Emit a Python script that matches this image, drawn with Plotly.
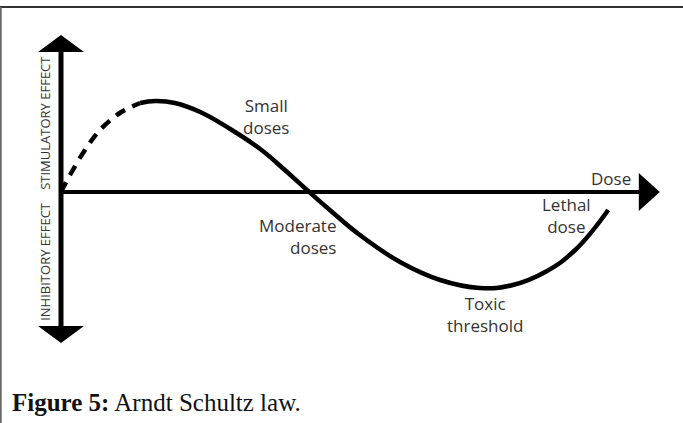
import plotly.graph_objects as go

# Arndt Schultz law: effect vs dose (sketch curve)
dose = [0, 0.15, 0.4, 0.65, 0.98, 1.32, 1.57, 1.9, 2.32, 2.82, 3.32, 3.73, 4.1,
        4.48, 4.98, 5.65, 6.32, 6.98, 7.53, 8.07, 8.57, 9.12]
effect = [0, 0.17, 0.42, 0.62, 0.79, 0.89, 0.91, 0.89, 0.80, 0.63, 0.43, 0.22, 0.02,
          -0.18, -0.43, -0.70, -0.88, -0.96, -0.93, -0.80, -0.58, -0.18]
n_dashed = 6  # first points drawn dashed (hypothetical low-dose part)

dose_max = 9.98
effect_top = 1.57
effect_bottom = -1.51

labels = ["Small<br>doses", "Moderate<br>doses", "Toxic<br>threshold", "Lethal<br>dose", "Dose"]
label_x = [3.42, 4.62, 7.07, 8.42, 9.17]
label_y = [0.76, -0.44, -1.22, -0.23, 0.14]
label_anchor = ["center", "right", "center", "center", "center"]

side_labels = ["STIMULATORY EFFECT", "INHIBITORY EFFECT"]
side_y = [0.69, -0.69]

caption = "<b>Figure 5:</b> Arndt Schultz law."

fig = go.Figure()

# axes shafts
fig.add_trace(go.Scatter(x=[0, dose_max - 0.3], y=[0, 0], mode="lines",
                         line=dict(color="black", width=4), hoverinfo="skip"))
fig.add_trace(go.Scatter(x=[0, 0], y=[effect_bottom + 0.14, effect_top - 0.14], mode="lines",
                         line=dict(color="black", width=5), hoverinfo="skip"))

# curve
fig.add_trace(go.Scatter(x=dose[:n_dashed], y=effect[:n_dashed], mode="lines",
                         line=dict(color="black", width=4.5, dash="11px,8px", shape="spline")))
fig.add_trace(go.Scatter(x=dose[n_dashed - 1:], y=effect[n_dashed - 1:], mode="lines",
                         line=dict(color="black", width=4.5, shape="spline", smoothing=1.2)))

# arrow heads (pixel sized, anchored on the axis ends)
heads = [
    (0, effect_top, "M0,0 L-23,-17 L23,-17 Z"),
    (0, effect_bottom, "M0,0 L-23,17 L23,17 Z"),
    (dose_max, 0, "M0,0 L-21,19 L-21,-19 Z"),
]
for hx, hy, p in heads:
    fig.add_shape(type="path", xref="x", yref="y", xsizemode="pixel", ysizemode="pixel",
                  xanchor=hx, yanchor=hy, path=p, fillcolor="black", line=dict(width=0))

for t, lx, ly, a in zip(labels, label_x, label_y, label_anchor):
    fig.add_annotation(x=lx, y=ly, text=t, showarrow=False, xanchor=a, align=a,
                       font=dict(family="Open Sans", size=17, color="#333"))

for t, sy in zip(side_labels, side_y):
    fig.add_annotation(x=-0.27, y=sy, text=t, showarrow=False, textangle=-90,
                       font=dict(family="Liberation Sans Narrow, Open Sans", size=13, color="#333"))

fig.add_annotation(xref="paper", yref="paper", x=10 / 683, y=1 - 402 / 423, text=caption,
                   showarrow=False, xanchor="left", yanchor="middle",
                   font=dict(family="Liberation Serif", size=25, color="#111"))

# frame lines
fig.add_shape(type="line", xref="paper", yref="paper", x0=0, x1=1, y0=1 - 7 / 423, y1=1 - 7 / 423,
              line=dict(color="#333", width=2))
fig.add_shape(type="line", xref="paper", yref="paper", x0=0.001, x1=0.001, y0=0, y1=1 - 7 / 423,
              line=dict(color="#666", width=2))

fig.update_xaxes(visible=False, range=[-61 / 60, 622 / 60])
fig.update_yaxes(visible=False, range=[-2.31, 1.92])
fig.update_layout(width=683, height=423, margin=dict(l=0, r=0, t=0, b=0), showlegend=False,
                  plot_bgcolor="white", paper_bgcolor="white")

# drop the browser's default body margin so the figure sits at the window corner
fig.write_html("out.html", config={"displayModeBar": False},
               post_script="document.body.style.margin='0';")
